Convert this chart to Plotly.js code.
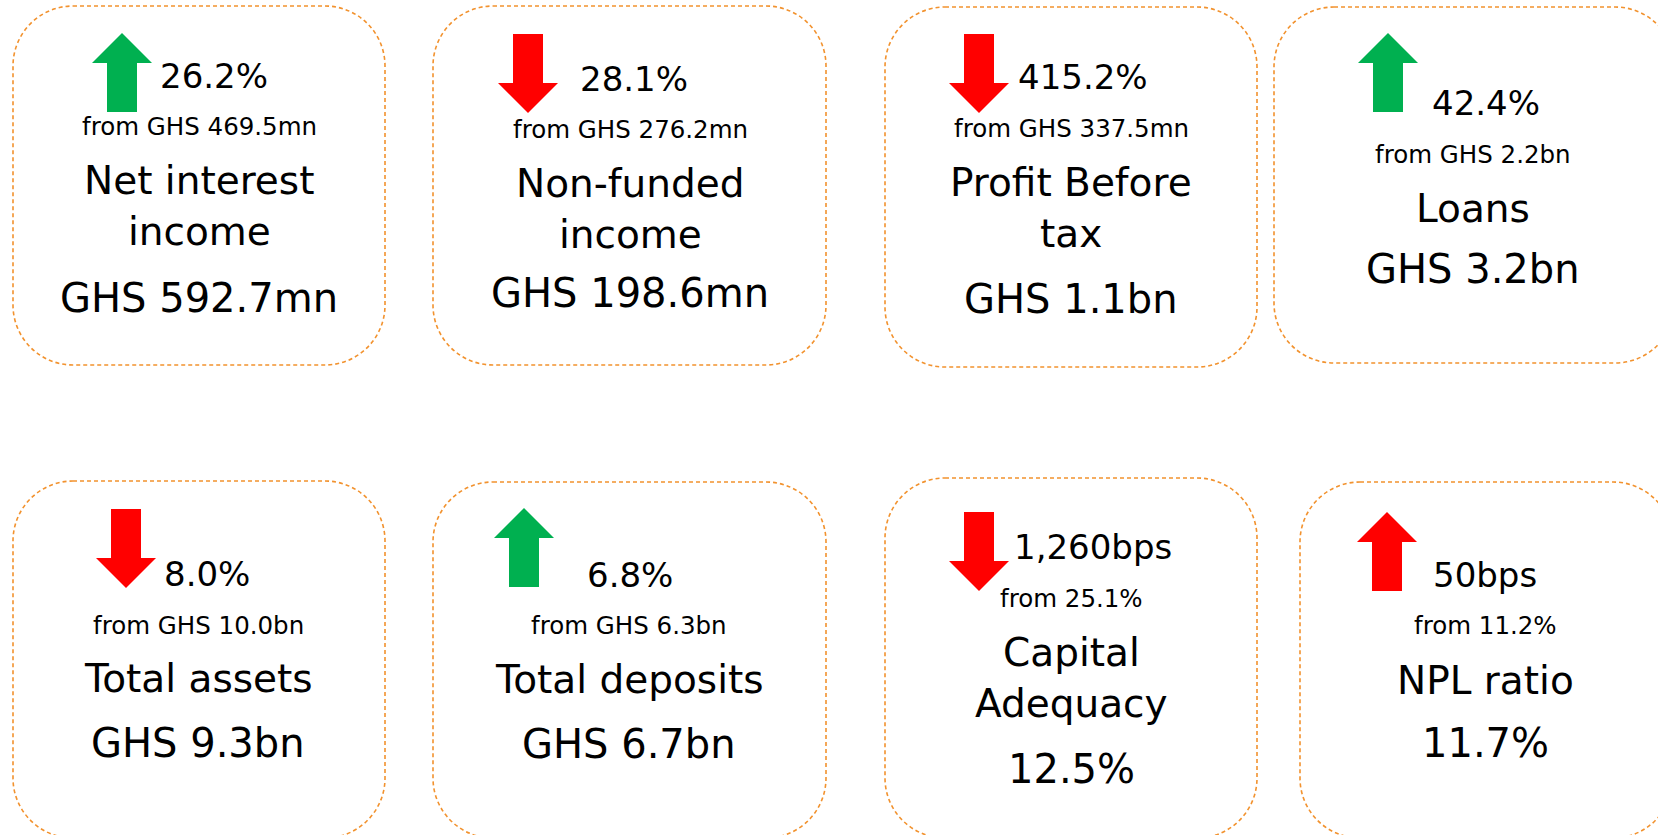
<!DOCTYPE html>
<html>
<head>
<meta charset="utf-8">
<script src="https://cdn.plot.ly/plotly-3.0.1.min.js"></script>
<style>
  html, body { margin: 0; padding: 0; background: #ffffff; }
  #chart { width: 1658px; height: 835px; }
</style>
</head>
<body>
<div id="chart"></div>
<script>
// ---- Data ----
const metrics = ['Net interest<br>income', 'Non-funded<br>income', 'Profit Before<br>tax', 'Loans',
                 'Total assets', 'Total deposits', 'Capital<br>Adequacy', 'NPL ratio'];
const currentValues = ['GHS 592.7mn', 'GHS 198.6mn', 'GHS 1.1bn', 'GHS 3.2bn',
                       'GHS 9.3bn', 'GHS 6.7bn', '12.5%', '11.7%'];
const changeValues = ['26.2%', '28.1%', '415.2%', '42.4%', '8.0%', '6.8%', '1,260bps', '50bps'];
const priorValues = ['GHS 469.5mn', 'GHS 276.2mn', 'GHS 337.5mn', 'GHS 2.2bn',
                     'GHS 10.0bn', 'GHS 6.3bn', '25.1%', '11.2%'];
const directions = ['up', 'down', 'down', 'up', 'down', 'up', 'down', 'up'];
const favourable = [true, false, false, true, false, true, false, false];

// ---- Layout of the cards (pixel space) ----
const W = 1658, H = 835;
const cards = [
  {box: [13, 6, 385, 365],    ax: 122,  atop: 33,  pctX: 158,  pctB: 88,  cx: 199,  fromB: 135, labB: [194, 245], valB: 312},
  {box: [433, 6, 826, 365],   ax: 528,  atop: 34,  pctX: 578,  pctB: 91,  cx: 630,  fromB: 138, labB: [197, 248], valB: 307},
  {box: [885, 7, 1257, 367],  ax: 979,  atop: 34,  pctX: 1016, pctB: 89,  cx: 1071, fromB: 137, labB: [196, 247], valB: 313},
  {box: [1274, 7, 1675, 363], ax: 1388, atop: 33,  pctX: 1430, pctB: 115, cx: 1473, fromB: 163, labB: [222],      valB: 283},
  {box: [13, 481, 385, 838],  ax: 126,  atop: 509, pctX: 162,  pctB: 586, cx: 198,  fromB: 634, labB: [692],      valB: 757},
  {box: [433, 482, 826, 838], ax: 524,  atop: 508, pctX: 585,  pctB: 587, cx: 629,  fromB: 634, labB: [693],      valB: 758},
  {box: [885, 478, 1257, 838],ax: 979,  atop: 512, pctX: 1012, pctB: 559, cx: 1071, fromB: 607, labB: [666, 717], valB: 783},
  {box: [1300, 482, 1673, 838],ax: 1387,atop: 512, pctX: 1431, pctB: 587, cx: 1485, fromB: 634, labB: [694],      valB: 757}
];

const FONT = 'DejaVu Sans, Verdana, sans-serif';
const SZ_PCT = 34, SZ_FROM = 24.5, SZ_LAB = 39, SZ_VAL = 40;
const BORDER = '#F2922E';
const GOOD = '#00B050', BAD = '#FF0000';
const RADIUS = 60;
const ARROW_H = 79, HEAD_H = 30, HEAD_HW = 30, SHAFT_HW = 15;

function roundRectArc(x0, y0, x1, y1, r) {
  const k = 0.5523 * r;
  return `M ${x0 + r} ${y0} L ${x1 - r} ${y0} C ${x1 - r + k} ${y0} ${x1} ${y0 + r - k} ${x1} ${y0 + r} ` +
         `L ${x1} ${y1 - r} C ${x1} ${y1 - r + k} ${x1 - r + k} ${y1} ${x1 - r} ${y1} ` +
         `L ${x0 + r} ${y1} C ${x0 + r - k} ${y1} ${x0} ${y1 - r + k} ${x0} ${y1 - r} ` +
         `L ${x0} ${y0 + r} C ${x0} ${y0 + r - k} ${x0 + r - k} ${y0} ${x0 + r} ${y0} Z`;
}
function arrowPath(cx, top, dir) {
  const bot = top + ARROW_H;
  if (dir === 'up') {
    const hb = top + HEAD_H;
    return `M ${cx} ${top} L ${cx + HEAD_HW} ${hb} L ${cx + SHAFT_HW} ${hb} L ${cx + SHAFT_HW} ${bot} ` +
           `L ${cx - SHAFT_HW} ${bot} L ${cx - SHAFT_HW} ${hb} L ${cx - HEAD_HW} ${hb} Z`;
  } else {
    const hb = bot - HEAD_H;
    return `M ${cx} ${bot} L ${cx + HEAD_HW} ${hb} L ${cx + SHAFT_HW} ${hb} L ${cx + SHAFT_HW} ${top} ` +
           `L ${cx - SHAFT_HW} ${top} L ${cx - SHAFT_HW} ${hb} L ${cx - HEAD_HW} ${hb} Z`;
  }
}
// centre y of a single text line from its baseline
function mid(baseline, size) { return baseline - 0.346 * size; }

const shapes = [];
const annotations = [];

metrics.forEach((m, i) => {
  const c = cards[i];
  shapes.push({
    type: 'path', xref: 'x', yref: 'y',
    path: roundRectArc(c.box[0], c.box[1], c.box[2], c.box[3], RADIUS),
    line: {color: BORDER, width: 1.6, dash: '4px,3px'},
    fillcolor: 'rgba(0,0,0,0)'
  });
  shapes.push({
    type: 'path', xref: 'x', yref: 'y',
    path: arrowPath(c.ax, c.atop, directions[i]),
    line: {width: 0},
    fillcolor: favourable[i] ? GOOD : BAD
  });
  annotations.push({
    x: c.pctX, y: mid(c.pctB, SZ_PCT), xref: 'x', yref: 'y',
    text: changeValues[i], showarrow: false, xanchor: 'left', yanchor: 'middle',
    font: {family: FONT, size: SZ_PCT, color: '#000'}
  });
  annotations.push({
    x: c.cx, y: mid(c.fromB, SZ_FROM), xref: 'x', yref: 'y',
    text: 'from ' + priorValues[i], showarrow: false, xanchor: 'center', yanchor: 'middle',
    font: {family: FONT, size: SZ_FROM, color: '#000'}
  });
  m.split('<br>').forEach((line, j) => {
    annotations.push({
      x: c.cx, y: mid(c.labB[j], SZ_LAB), xref: 'x', yref: 'y',
      text: line, showarrow: false, xanchor: 'center', yanchor: 'middle',
      font: {family: FONT, size: SZ_LAB, color: '#000'}
    });
  });
  annotations.push({
    x: c.cx, y: mid(c.valB, SZ_VAL), xref: 'x', yref: 'y',
    text: currentValues[i], showarrow: false, xanchor: 'center', yanchor: 'middle',
    font: {family: FONT, size: SZ_VAL, color: '#000'}
  });
});

const layout = {
  width: W, height: H,
  margin: {l: 0, r: 0, t: 0, b: 0, pad: 0},
  paper_bgcolor: '#ffffff', plot_bgcolor: '#ffffff',
  xaxis: {range: [0, W], visible: false, fixedrange: true},
  yaxis: {range: [H, 0], visible: false, fixedrange: true},
  showlegend: false,
  shapes: shapes,
  annotations: annotations
};

Plotly.newPlot('chart', [{x: [], y: [], type: 'scatter', mode: 'markers', hoverinfo: 'skip'}], layout,
  {displayModeBar: false, staticPlot: true});
</script>
</body>
</html>
